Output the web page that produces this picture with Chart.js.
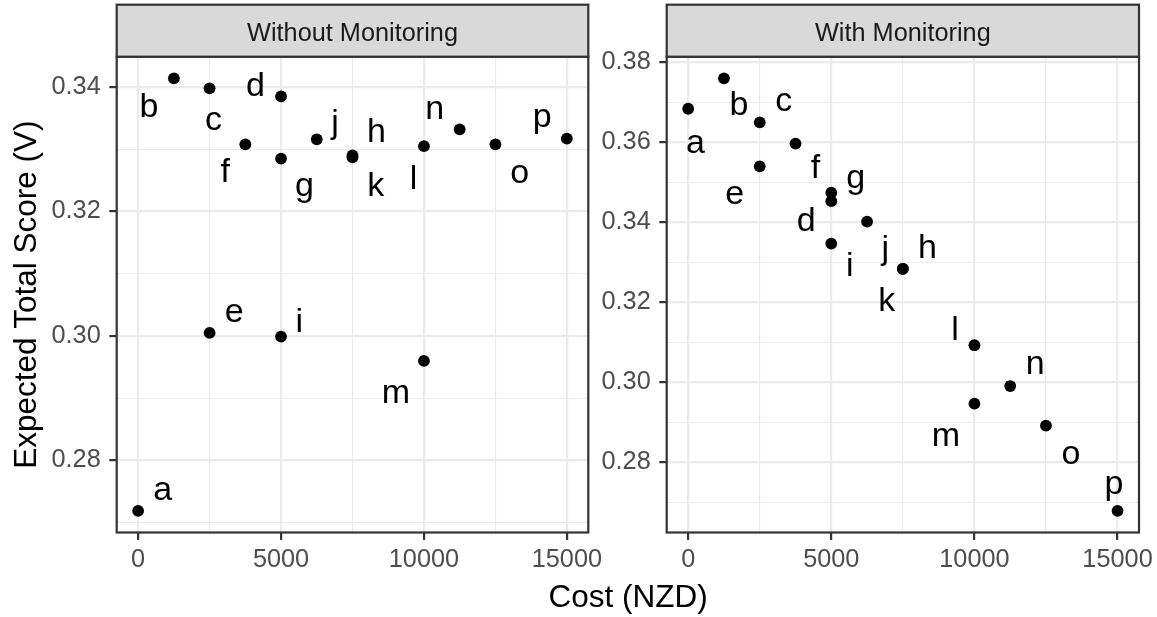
<!DOCTYPE html>
<html>
<head>
<meta charset="utf-8">
<script src="https://cdn.jsdelivr.net/npm/chart.js@4.4.1/dist/chart.umd.min.js"></script>
<style>
  html, body { margin: 0; padding: 0; background: #fff; }
  #wrap { position: relative; width: 1157px; height: 617px; overflow: hidden; }
  canvas { position: absolute; top: 0; }
  #left-panel { left: 0; }
  #right-panel { left: 600px; }
</style>
</head>
<body>
<div id="wrap">
  <canvas id="left-panel" width="1157" height="617"></canvas>
  <canvas id="right-panel" width="557" height="617"></canvas>
</div>
<script>
// data
const pointLabels = ['a','b','c','d','e','f','g','h','i','j','k','l','m','n','o','p'];
const costs = [0, 1250, 2500, 5000, 2500, 3750, 5000, 7500, 5000, 6250, 7500, 10000, 10000, 11250, 12500, 15000];
const scoreWithout = [0.2719, 0.3414, 0.3398, 0.3385, 0.3005, 0.3308, 0.3285, 0.3290, 0.2999, 0.3316, 0.3287, 0.3305, 0.2960, 0.3332, 0.3308, 0.3317];
const scoreWith = [0.3684, 0.3760, 0.3650, 0.3453, 0.3540, 0.3597, 0.3474, 0.3284, 0.3347, 0.3402, 0.3284, 0.3093, 0.2947, 0.2991, 0.2892, 0.2679];

const xTicks = [0, 5000, 10000, 15000];
const xMinor = [2500, 7500, 12500];
const yTicksWithout = [0.28, 0.30, 0.32, 0.34];
const yMinorWithout = [0.27, 0.29, 0.31, 0.33];
const yTicksWith = [0.28, 0.30, 0.32, 0.34, 0.36, 0.38];
const yMinorWith = [0.27, 0.29, 0.31, 0.33, 0.35, 0.37];

// label nudges (pixels from the point to the label's baseline centre)
const offsetsWithout = [[24.6,-11.3],[-25,38.6],[4,41.7],[-25.7,-0.6],[24.7,-11.3],[-20,37.4],[23.3,37.4],[24,-14],
                        [18.3,-5],[18.3,-6.7],[23.3,38.7],[-10.4,42.6],[-28,42],[-25,-10],[24.3,38.7],[-24.6,-12]];
const offsetsWith = [[7.3,44.3],[15,36.3],[24,-11],[-25,30],[-25,37.3],[20,34.3],[24.3,-5],[24.6,-11],
                     [18.6,32],[18.3,37.7],[-16,42.4],[-19.3,-5.7],[-28.6,42.4],[25,-11.7],[25,38],[-3.7,-16.7]];

const FONT = '"Liberation Sans", Arial, sans-serif';
const H = 617;

function expand(vals) {
  let lo = Math.min(...vals), hi = Math.max(...vals), pad = (hi - lo) * 0.05;
  return [lo - pad, hi + pad];
}

function tickList(major, minor) {
  return major.map(v => ({ value: v, isMajor: true }))
    .concat(minor.map(v => ({ value: v, isMajor: false })))
    .sort((a, b) => a.value - b.value);
}

function panelPlugin(title, offsets, withTitles) {
  return {
    id: 'panelDecor',
    afterDatasetsDraw(chart) {
      const ctx = chart.ctx, meta = chart.getDatasetMeta(0);
      ctx.save();
      ctx.fillStyle = '#000';
      ctx.font = '34px ' + FONT;
      ctx.textAlign = 'center';
      ctx.textBaseline = 'alphabetic';
      meta.data.forEach((pt, i) => {
        ctx.fillText(pointLabels[i], pt.x + offsets[i][0], pt.y + offsets[i][1]);
      });
      ctx.restore();
    },
    afterDraw(chart) {
      const a = chart.chartArea, ctx = chart.ctx;
      ctx.save();
      ctx.lineWidth = 2.2;
      ctx.strokeStyle = '#333333';
      ctx.strokeRect(a.left, a.top, a.right - a.left, a.bottom - a.top);
      ctx.fillStyle = '#D9D9D9';
      ctx.fillRect(a.left, 4.7, a.right - a.left, a.top - 4.7);
      ctx.strokeRect(a.left, 4.7, a.right - a.left, a.top - 4.7);
      ctx.fillStyle = '#1A1A1A';
      ctx.font = '25.3px ' + FONT;
      ctx.textAlign = 'center';
      ctx.textBaseline = 'alphabetic';
      ctx.fillText(title, (a.left + a.right) / 2, 40.7);
      if (withTitles) {
        ctx.fillStyle = '#000';
        ctx.font = '31.5px ' + FONT;
        ctx.fillText('Cost (NZD)', 628, 607);
        ctx.translate(36, (a.top + a.bottom) / 2);
        ctx.rotate(-Math.PI / 2);
        ctx.fillText('Expected Total Score (V)', 0, 0);
      }
      ctx.restore();
    }
  };
}

function makePanel(id, title, scores, offsets, yMajor, yMinor, box, withTitles) {
  const [ymin, ymax] = expand(scores);
  const canvas = document.getElementById(id);
  const gridOpts = {
    color: '#EBEBEB',
    lineWidth: c => (c.tick && c.tick.isMajor) ? 2.2 : 1.1,
    tickLength: 7.4,
    tickWidth: 2.2,
    tickColor: c => (c.tick && c.tick.isMajor) ? '#333333' : 'rgba(0,0,0,0)'
  };
  return new Chart(canvas, {
    type: 'scatter',
    data: {
      datasets: [{
        data: costs.map((x, i) => ({ x: x, y: scores[i] })),
        pointRadius: 5.9,
        pointHoverRadius: 5.9,
        backgroundColor: '#000',
        borderWidth: 0
      }]
    },
    options: {
      responsive: false,
      animation: false,
      devicePixelRatio: 1,
      events: [],
      layout: { padding: { left: 0, top: box.top, right: canvas.width - box.right, bottom: 0 } },
      plugins: { legend: { display: false }, tooltip: { enabled: false } },
      scales: {
        x: {
          type: 'linear', min: -750, max: 15750,
          afterBuildTicks: s => { s.ticks = tickList(xTicks, xMinor); },
          afterFit: s => { s.height = H - box.bottom; s.paddingLeft = 0; s.paddingRight = 0; },
          grid: gridOpts,
          border: { display: false },
          ticks: {
            autoSkip: false, maxRotation: 0, padding: 5, color: '#4D4D4D',
            font: { family: FONT, size: 25.3, lineHeight: 1.2 },
            callback: v => xTicks.includes(v) ? String(v) : ''
          }
        },
        y: {
          type: 'linear', min: ymin, max: ymax,
          afterBuildTicks: s => { s.ticks = tickList(yMajor, yMinor); },
          afterFit: s => { s.width = box.left; s.paddingTop = 0; s.paddingBottom = 0; },
          grid: gridOpts,
          border: { display: false },
          ticks: {
            autoSkip: false, padding: 8.6, color: '#4D4D4D',
            font: { family: FONT, size: 25.3, lineHeight: 1.2 },
            callback: v => yMajor.includes(v) ? v.toFixed(2) : ''
          }
        }
      }
    },
    plugins: [panelPlugin(title, offsets, withTitles)]
  });
}

makePanel('left-panel', 'Without Monitoring', scoreWithout, offsetsWithout, yTicksWithout, yMinorWithout,
  { left: 116.7, right: 588.3, top: 56.7, bottom: 532.5 }, true);
makePanel('right-panel', 'With Monitoring', scoreWith, offsetsWith, yTicksWith, yMinorWith,
  { left: 66.7, right: 539, top: 56.7, bottom: 532.5 }, false);
</script>
</body>
</html>
